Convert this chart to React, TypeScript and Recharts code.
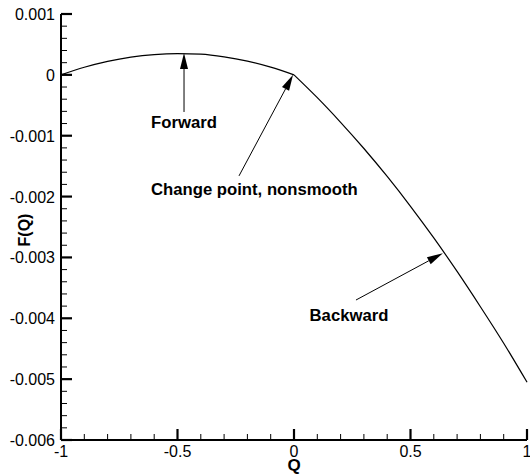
import React from 'react';
import {
  LineChart,
  Line,
  XAxis,
  YAxis,
  ReferenceLine,
  ReferenceDot,
} from 'recharts';

const qValues = [
  -1, -0.9, -0.8, -0.7, -0.6, -0.5, -0.4, -0.3, -0.2, -0.1, 0,
  0.1, 0.2, 0.3, 0.4, 0.5, 0.6, 0.7, 0.8, 0.9, 1,
];

// forward branch (Q <= 0)
const forwardF = [
  0, 0.000125, 0.000222, 0.000292, 0.000334, 0.00035, 0.00034, 0.000296,
  0.000225, 0.000126, 0,
  null, null, null, null, null, null, null, null, null, null,
];

// backward branch (Q >= 0)
const backwardF = [
  null, null, null, null, null, null, null, null, null, null,
  0, -0.000375, -0.00078, -0.00121, -0.00167, -0.00216, -0.00268, -0.00323,
  -0.00381, -0.00441, -0.00505,
];

const xTicks = [
  -1, -0.9, -0.8, -0.7, -0.6, -0.5, -0.4, -0.3, -0.2, -0.1, 0,
  0.1, 0.2, 0.3, 0.4, 0.5, 0.6, 0.7, 0.8, 0.9, 1,
];
const xMajor = [-1, -0.5, 0, 0.5, 1];

const yTicks = [
  0.001, 0.0008, 0.0006, 0.0004, 0.0002, 0,
  -0.0002, -0.0004, -0.0006, -0.0008, -0.001,
  -0.0012, -0.0014, -0.0016, -0.0018, -0.002,
  -0.0022, -0.0024, -0.0026, -0.0028, -0.003,
  -0.0032, -0.0034, -0.0036, -0.0038, -0.004,
  -0.0042, -0.0044, -0.0046, -0.0048, -0.005,
  -0.0052, -0.0054, -0.0056, -0.0058, -0.006,
];
const yMajor = [0.001, 0, -0.001, -0.002, -0.003, -0.004, -0.005, -0.006];

const noteText = ['Forward', 'Change point, nonsmooth', 'Backward'];
const noteAt = [[-0.472, -0.00077], [-0.17, -0.00188], [0.236, -0.00394]];
const arrowTail = [[-0.472, -0.00061], [-0.236, -0.00166], [0.266, -0.0037]];
const arrowTip = [[-0.472, 0.00036], [-0.004, 0], [0.639, -0.00293]];

const data = qValues.map((q, i) => ({ q, forward: forwardF[i], backward: backwardF[i] }));

const FONT = '"Liberation Sans", Arial, Helvetica, sans-serif';

function YTick({ x, y, payload }: any) {
  const v = payload.value;
  const major = yMajor.includes(v);
  return (
    <g>
      <line x1={x} x2={x + (major ? 11 : 6)} y1={y} y2={y} stroke="#000" strokeWidth={major ? 2.2 : 1} />
      {major && (
        <text x={x - 6} y={y + 6} textAnchor="end" fontFamily={FONT} fontSize={16} fill="#000">
          {String(v)}
        </text>
      )}
    </g>
  );
}

function XTick({ x, y, payload }: any) {
  const v = payload.value;
  const major = xMajor.includes(v);
  return (
    <g>
      <line x1={x} x2={x} y1={y} y2={y - (major ? 11 : 6)} stroke="#000" strokeWidth={major ? 2.2 : 1} />
      {major && (
        <text x={x} y={y + 17} textAnchor="middle" fontFamily={FONT} fontSize={16} fill="#000">
          {String(v)}
        </text>
      )}
    </g>
  );
}

function Arrow({ x1, y1, x2, y2 }: any) {
  const dx = x2 - x1;
  const dy = y2 - y1;
  const len = Math.hypot(dx, dy) || 1;
  const ux = dx / len;
  const uy = dy / len;
  const hl = 16;
  const hw = 4;
  const bx = x2 - ux * hl;
  const by = y2 - uy * hl;
  const pts = `${x2},${y2} ${bx - uy * hw},${by + ux * hw} ${bx + uy * hw},${by - ux * hw}`;
  return (
    <g>
      <line x1={x1} y1={y1} x2={bx} y2={by} stroke="#000" strokeWidth={1} />
      <polygon points={pts} fill="#000" />
    </g>
  );
}

export default function App() {
  return (
    <div style={{ position: 'absolute', left: 0, top: 0, background: '#fff' }}>
      <LineChart
        width={530}
        height={476}
        data={data}
        margin={{ top: 14, right: 3, bottom: 0, left: 0 }}
      >
        <XAxis
          dataKey="q"
          type="number"
          domain={[-1, 1]}
          ticks={xTicks}
          interval={0}
          tickSize={0}
          tickMargin={0}
          tickLine={false}
          height={36}
          axisLine={{ stroke: '#000', strokeWidth: 2 }}
          tick={(p: any) => <XTick {...p} />}
          label={{
            content: ({ viewBox }: any) => (
              <text
                x={viewBox.x + viewBox.width / 2}
                y={471}
                textAnchor="middle"
                fontFamily={FONT}
                fontWeight="bold"
                fontSize={17}
                fill="#000"
              >
                Q
              </text>
            ),
          }}
        />
        <YAxis
          type="number"
          domain={[-0.006, 0.001]}
          ticks={yTicks}
          interval={0}
          tickSize={0}
          tickMargin={0}
          tickLine={false}
          width={61}
          axisLine={{ stroke: '#000', strokeWidth: 2 }}
          tick={(p: any) => <YTick {...p} />}
          label={{
            content: ({ viewBox }: any) => {
              const cx = viewBox.x + 24;
              const cy = viewBox.y + viewBox.height / 2 + 3;
              return (
                <text
                  x={cx}
                  y={cy}
                  transform={`rotate(-90, ${cx}, ${cy})`}
                  textAnchor="middle"
                  dominantBaseline="central"
                  fontFamily={FONT}
                  fontWeight="bold"
                  fontSize={16}
                  fill="#000"
                >
                  F(Q)
                </text>
              );
            },
          }}
        />
        <Line
          dataKey="forward"
          type="monotone"
          stroke="#000"
          strokeWidth={1.2}
          dot={false}
          activeDot={false}
          isAnimationActive={false}
        />
        <Line
          dataKey="backward"
          type="monotone"
          stroke="#000"
          strokeWidth={1.2}
          dot={false}
          activeDot={false}
          isAnimationActive={false}
        />
        {noteText.map((t, i) => (
          <ReferenceLine
            key={'a' + i}
            segment={[
              { x: arrowTail[i][0], y: arrowTail[i][1] },
              { x: arrowTip[i][0], y: arrowTip[i][1] },
            ]}
            shape={(p: any) => <Arrow {...p} />}
          />
        ))}
        {noteText.map((t, i) => (
          <ReferenceDot
            key={'t' + i}
            x={noteAt[i][0]}
            y={noteAt[i][1]}
            r={0}
            shape={(p: any) => (
              <text
                x={p.cx}
                y={p.cy + 6}
                textAnchor="middle"
                fontFamily={FONT}
                fontWeight="bold"
                fontSize={16.7}
                fill="#000"
              >
                {t}
              </text>
            )}
          />
        ))}
      </LineChart>
    </div>
  );
}
